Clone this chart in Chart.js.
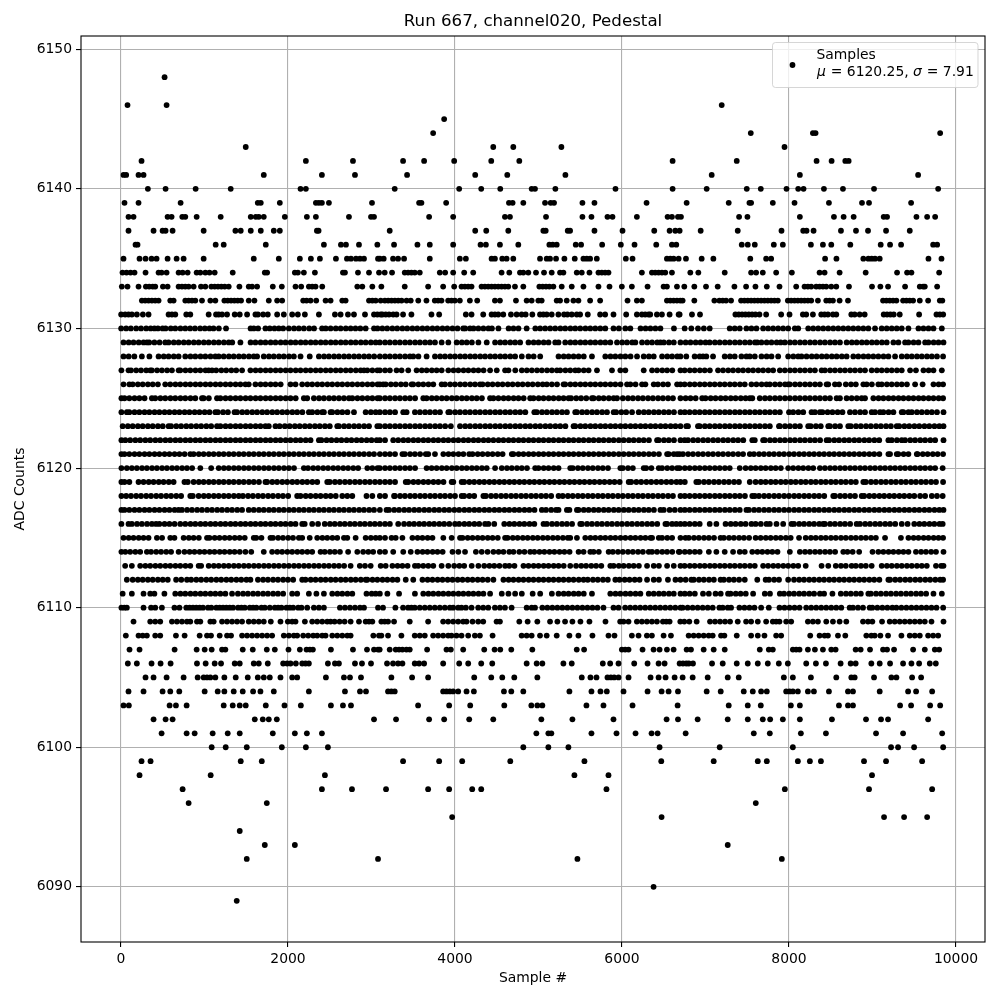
<!DOCTYPE html>
<html>
<head>
<meta charset="utf-8">
<title>Run 667, channel020, Pedestal</title>
<script src="https://cdn.jsdelivr.net/npm/chart.js@4/dist/chart.umd.min.js"></script>
<style>
  html, body { margin: 0; padding: 0; background: #fff; }
  canvas { display: block; }
</style>
</head>
<body>
<canvas id="pedestalChart" width="1000" height="1000"></canvas>
<script>
// sample numbers, one list per ADC level
const row6148 = [522];
const row6146 = [78,546,7194];
const row6145 = [3870];
const row6144 = [3738,7542,8286,8318,9810];
const row6143 = [1494,4458,4698,5274,7946];
const row6142 = [246,2214,2778,3378,3630,3990,4434,4770,6606,7374,8330,8510,8674,8714];
const row6141 = [30,62,210,270,1710,2406,2802,3426,4242,4626,5322,7074,8130,9546];
const row6140 = [322,534,894,1314,2150,2214,3278,4050,4314,4542,4918,4958,5202,5922,6606,7014,7494,7662,7970,8110,8174,8418,8646,9018,9786];
const row6139 = [42,210,714,1638,1674,1902,2334,2370,2406,2490,3006,3570,3598,3894,4646,4690,4818,5078,5146,5186,5526,5670,6294,6774,7278,7526,7546,7806,8066,8478,8874,8958,9462];
const row6138 = [90,150,558,606,734,770,906,1194,1554,1614,1650,1710,1962,2226,2334,2730,2994,3030,3690,3978,4598,4658,5090,5526,5634,5826,5886,6178,6546,6598,6670,6706,7402,7502,8130,8538,8654,8774,9134,9174,9526,9654,9750];
const row6137 = [90,390,498,534,618,990,1370,1434,1554,1674,1830,1902,2346,2366,3218,4242,4374,4638,5058,5086,5350,5378,5670,6006,6386,6570,6638,6690,6942,7386,7910,8170,8210,8294,8622,8802,8946,9162,9446];
const row6136 = [174,198,1134,1230,1734,2430,2634,2694,2850,3070,3270,3550,3698,3978,4306,4370,4538,4758,5130,5170,5218,5446,5510,5762,5986,6150,6410,6598,6650,7434,7506,7590,7818,7926,8262,8406,8506,8734,9098,9210,9342,9726,9774];
const row6135 = [30,222,294,366,426,558,666,750,990,1590,1890,2142,2274,2382,2574,2706,2754,2814,2862,2910,3078,3100,3146,3258,3318,3390,3698,4058,4130,4438,4478,4566,4618,4698,5018,5098,5138,5210,5310,5434,5538,5578,5618,5698,6046,6126,6538,6578,6618,6678,6766,6954,7094,7536,7726,7786,8432,8568,8890,8950,8990,9030,9086,9670,9826];
const row6134 = [18,66,114,162,294,450,486,546,690,738,798,906,950,1010,1060,1122,1338,1722,1750,2082,2118,2190,2322,2658,2682,2838,2970,3090,3158,3246,3398,3438,3478,3518,3578,3818,3882,3978,4110,4218,4558,4650,4778,4818,4878,4970,5066,5158,5258,5298,5458,5518,5610,5718,5758,5798,5838,6238,6358,6398,6438,6478,6518,6598,6818,6914,7230,7546,7606,7686,7846,8034,8366,8426,8606,8918,9294,9414,9466,9798];
const row6133 = [10,78,210,298,338,380,410,502,558,690,730,770,810,870,958,1010,1082,1122,1162,1202,1242,1290,1418,1530,1570,1630,1818,1926,2090,2158,2250,2290,2330,2410,2830,2890,3010,3118,3398,3678,3858,3990,4078,4118,4158,4198,4318,4358,4398,4438,4478,4518,4558,4598,4638,4718,4818,5010,5050,5090,5130,5178,5278,5398,5538,5718,5850,5998,6118,6306,6498,6538,6658,6746,6866,7006,7146,7346,7486,7598,7734,7886,8086,8186,8226,8266,8326,8366,8406,8446,8506,8566,8718,8994,9094,9186,9390,9566,9606,9626,9774];
const row6132 = [250,290,330,370,410,450,590,630,770,810,850,890,970,1070,1130,1238,1278,1318,1358,1398,1438,1530,1598,1770,1870,1930,2182,2222,2270,2338,2450,2510,2650,2690,2970,3010,3050,3110,3160,3200,3240,3280,3320,3360,3420,3470,3560,3658,3758,3798,3838,3918,3958,3998,4058,4178,4266,4478,4538,4730,4858,4918,4998,5038,5218,5258,5338,5418,5478,5618,5738,6066,6178,6238,6538,6578,6618,6658,6698,6726,6866,7106,7166,7206,7246,7306,7426,7466,7506,7546,7586,7626,7666,7706,7746,7786,7826,7866,7986,8026,8066,8106,8146,8186,8226,8266,8346,8446,8486,8526,8606,8706,9126,9166,9206,9246,9286,9366,9406,9446,9486,9566,9666,9806,9836];
const row6131 = [2,50,90,130,190,262,330,570,610,650,782,830,1050,1138,1170,1210,1270,1362,1422,1510,1610,1640,1702,1758,1870,1950,2050,2118,2202,2370,2562,2630,2718,2790,2922,3030,3070,3110,3130,3170,3210,3260,3300,3378,3478,3718,3810,4130,4198,4338,4438,4478,4518,4578,4670,4738,4798,4846,4926,5018,5058,5098,5158,5238,5306,5346,5398,5458,5498,5590,5738,5798,5898,6050,6178,6238,6278,6318,6338,6418,6478,6570,6678,6690,6838,6934,7358,7398,7438,7478,7518,7558,7598,7646,7726,7906,8006,8166,8206,8286,8386,8426,8466,8526,8566,8746,8786,8846,8906,9134,9174,9214,9254,9326,9558,9766,9806,9846];
const row6130 = [2,62,118,182,240,302,355,400,442,498,534,596,650,712,770,828,886,948,1004,1060,1108,1172,1258,1552,1590,1642,1730,1782,1838,1890,1942,2010,2072,2130,2190,2254,2312,2408,2452,2510,2572,2630,2692,2750,2808,2866,2930,3030,3072,3130,3188,3250,3308,3370,3428,3490,3548,3610,3668,3730,3788,3850,3908,3970,4030,4098,4122,4180,4222,4280,4340,4400,4442,4520,4642,4700,4760,4858,4962,5020,5080,5140,5200,5262,5320,5382,5440,5500,5562,5620,5680,5740,5800,5898,5962,6040,6100,6222,6282,6340,6400,6460,6622,6750,6830,6910,6980,7050,7290,7350,7410,7490,7550,7610,7690,7750,7810,7870,7930,7990,8070,8110,8230,8290,8350,8410,8470,8530,8590,8650,8710,8770,8830,8890,8950,9030,9110,9170,9230,9290,9350,9430,9550,9610,9670,9730,9830];
const row6129 = [30,92,150,212,270,310,338,400,462,530,570,632,690,752,810,872,930,992,1050,1112,1170,1232,1290,1332,1430,1552,1610,1672,1730,1792,1850,1912,1970,2032,2090,2152,2210,2272,2330,2392,2450,2512,2570,2632,2690,2752,2810,2872,2930,2992,3050,3100,3162,3220,3282,3340,3402,3460,3522,3580,3642,3700,3760,3840,3920,4020,4082,4140,4202,4280,4380,4480,4542,4600,4662,4720,4780,4880,4942,5000,5062,5120,5200,5240,5320,5382,5440,5502,5560,5622,5680,5742,5800,5860,5940,6002,6060,6122,6160,6240,6302,6360,6422,6460,6500,6562,6620,6700,6762,6820,6882,6940,7000,7050,7112,7170,7232,7290,7352,7410,7472,7530,7592,7620,7670,7732,7790,7852,7900,7950,8012,8070,8132,8190,8252,8310,8372,8430,8492,8550,8610,8690,8752,8810,8872,8930,8992,9050,9112,9170,9250,9310,9390,9430,9492,9550,9630,9670,9732,9790,9850];
const row6128 = [30,92,160,250,340,450,512,570,632,690,770,832,890,952,1010,1072,1130,1170,1230,1292,1350,1412,1470,1532,1590,1630,1710,1772,1830,1892,1950,2012,2070,2150,2260,2370,2432,2490,2552,2610,2672,2730,2792,2850,2912,2970,3032,3100,3162,3220,3282,3340,3402,3460,3500,3562,3660,3760,3822,3880,3942,4000,4062,4120,4182,4240,4302,4360,4422,4480,4542,4600,4662,4720,4800,4880,4942,5020,5240,5302,5360,5420,5480,5542,5640,5800,5862,5920,5982,6040,6102,6180,6260,6322,6380,6480,6542,6600,6662,6700,6770,6870,6930,6970,7010,7090,7230,7292,7350,7430,7490,7530,7590,7670,7732,7790,7870,7990,8052,8110,8150,8210,8272,8330,8392,8450,8512,8570,8632,8690,8770,8830,8892,8950,9010,9070,9132,9190,9270,9350,9412,9470,9532,9590,9652,9710,9772,9845];
const row6127 = [5,90,120,182,240,302,350,370,432,490,552,610,690,710,772,830,892,950,1012,1050,1090,1140,1202,1260,1322,1380,1450,1550,1612,1670,1732,1790,1852,1910,1972,2030,2092,2150,2212,2270,2332,2390,2452,2510,2572,2630,2692,2750,2812,2870,2910,2950,3010,3070,3100,3162,3220,3300,3360,3440,3540,3602,3660,3722,3780,3840,3920,3982,4040,4102,4160,4222,4280,4342,4420,4500,4600,4640,4722,4800,4860,4920,4982,5040,5102,5160,5220,5260,5322,5380,5440,5480,5542,5600,5700,5880,5980,6040,6260,6360,6420,6482,6540,6602,6700,6750,6812,6870,6932,6990,7052,7150,7210,7272,7330,7392,7450,7512,7570,7632,7690,7752,7810,7890,7950,8012,8070,8132,8190,8252,8310,8390,8430,8492,8550,8612,8670,8732,8790,8852,8910,8990,9052,9110,9172,9230,9292,9350,9450,9520,9610,9672,9730,9830];
const row6126 = [30,100,140,202,260,322,380,442,530,590,652,710,772,830,892,950,1012,1070,1132,1190,1252,1310,1372,1430,1490,1530,1610,1672,1730,1792,1850,1912,2030,2090,2170,2232,2290,2352,2410,2472,2530,2592,2650,2712,2770,2832,2890,2952,3010,3072,3100,3140,3170,3232,3290,3352,3410,3480,3500,3562,3620,3682,3740,3840,3880,3942,4000,4062,4120,4182,4240,4300,4330,4392,4450,4512,4570,4632,4690,4752,4810,4872,4930,4992,5050,5100,5160,5222,5300,5320,5382,5440,5502,5560,5622,5680,5742,5800,5862,5920,5982,6060,6100,6162,6240,6280,6380,6430,6492,6550,6660,6700,6750,6812,6870,6932,6990,7052,7110,7172,7230,7292,7350,7412,7470,7550,7610,7672,7730,7770,7832,7890,7952,7990,8010,8072,8130,8192,8250,8312,8370,8450,8470,8550,8600,8680,8742,8800,8890,8930,8992,9070,9110,9172,9230,9292,9350,9412,9510,9600,9730,9792,9845];
const row6125 = [5,42,100,162,220,282,370,410,472,530,592,650,712,770,832,890,970,990,1052,1150,1190,1252,1310,1372,1430,1492,1550,1612,1670,1732,1790,1852,1910,1972,2030,2092,2190,2230,2310,2372,2430,2492,2550,2610,2670,2730,2770,2832,2890,2952,3010,3072,3100,3162,3220,3282,3340,3402,3460,3522,3620,3660,3722,3780,3842,3900,3962,4020,4082,4140,4202,4260,4322,4420,4460,4520,4582,4640,4702,4760,4822,4900,4940,5002,5060,5122,5180,5242,5300,5360,5390,5452,5510,5572,5640,5660,5722,5780,5842,5900,5940,6010,6072,6130,6192,6250,6312,6370,6432,6490,6552,6610,6700,6762,6820,6882,6960,7000,7062,7120,7182,7240,7302,7360,7422,7480,7530,7560,7650,7712,7770,7832,7890,7952,8010,8072,8130,8192,8250,8312,8370,8432,8490,8570,8610,8690,8750,8812,8870,8910,9010,9072,9130,9192,9250,9312,9370,9432,9490,9552,9610,9672,9730,9792,9845];
const row6124 = [5,70,100,162,220,282,340,402,460,522,580,642,700,762,820,882,940,1002,1060,1130,1160,1222,1280,1360,1390,1452,1510,1572,1630,1692,1750,1812,1870,1932,1990,2052,2110,2172,2250,2290,2352,2410,2430,2510,2530,2592,2650,2712,2790,2930,2992,3050,3100,3162,3220,3282,3380,3420,3520,3580,3642,3700,3762,3820,3920,3940,4002,4060,4122,4180,4242,4300,4362,4420,4482,4540,4602,4660,4722,4780,4842,4950,4980,5042,5100,5162,5220,5282,5340,5440,5460,5522,5580,5642,5700,5762,5820,5900,5930,5992,6050,6120,6200,6262,6320,6382,6440,6502,6560,6622,6700,6752,6810,6872,6930,6992,7050,7112,7170,7232,7290,7352,7410,7472,7530,7592,7650,7712,7770,7832,7890,8000,8050,8112,8170,8270,8310,8370,8400,8462,8520,8582,8640,8730,8790,8852,8910,8990,9030,9090,9130,9192,9250,9350,9370,9430,9470,9532,9590,9652,9710,9772,9850];
const row6123 = [20,82,140,202,260,322,380,442,500,570,600,662,720,782,840,902,960,1022,1080,1150,1190,1252,1310,1372,1430,1492,1550,1612,1670,1730,1770,1850,1900,1962,2020,2082,2140,2202,2260,2322,2380,2442,2500,2590,2610,2672,2730,2792,2850,2912,2970,3070,3100,3162,3220,3282,3340,3402,3460,3522,3580,3642,3700,3762,3820,3882,3950,4060,4122,4180,4242,4300,4362,4420,4482,4540,4602,4660,4722,4780,4842,4900,4962,5020,5082,5140,5202,5260,5322,5420,5440,5502,5560,5622,5680,5742,5800,5862,5920,5982,6040,6102,6160,6222,6280,6342,6400,6462,6520,6582,6640,6700,6770,6790,6910,6930,6992,7050,7112,7170,7232,7290,7352,7410,7472,7530,7592,7650,7712,7770,7880,7890,7952,8010,8072,8130,8230,8260,8322,8380,8470,8490,8552,8610,8710,8740,8802,8860,8922,8980,9042,9100,9162,9220,9290,9320,9382,9440,9502,9560,9622,9680,9742,9800,9850];
const row6122 = [5,52,110,172,230,292,350,412,470,532,590,652,710,772,830,892,950,1012,1070,1132,1190,1252,1310,1372,1430,1492,1550,1612,1670,1732,1790,1852,1910,1972,2030,2092,2150,2212,2270,2370,2400,2462,2520,2582,2640,2702,2760,2822,2880,2942,3000,3062,3100,3162,3260,3320,3382,3440,3502,3560,3622,3680,3742,3800,3862,3920,3982,4040,4102,4160,4222,4280,4342,4400,4460,4522,4580,4642,4700,4762,4820,4882,4940,5002,5060,5122,5180,5242,5300,5362,5420,5482,5540,5602,5660,5722,5780,5842,5900,5962,6020,6082,6140,6202,6260,6322,6420,6440,6502,6560,6622,6700,6750,6790,6852,6910,6972,7030,7092,7150,7212,7270,7332,7390,7452,7560,7590,7690,7710,7772,7830,7892,7950,8012,8070,8132,8190,8252,8310,8372,8450,8480,8542,8600,8662,8720,8782,8840,8902,8960,9022,9080,9190,9230,9292,9350,9390,9452,9510,9572,9630,9692,9750,9850];
const row6121 = [5,42,100,162,220,282,340,402,460,522,580,642,700,762,830,870,932,990,1052,1110,1172,1230,1292,1350,1412,1470,1532,1590,1652,1710,1772,1830,1892,1950,2012,2070,2132,2190,2252,2310,2372,2430,2492,2550,2612,2670,2732,2790,2852,2910,2972,3030,3100,3162,3220,3282,3370,3400,3462,3520,3582,3650,3680,3760,3860,3922,3980,4042,4100,4170,4210,4272,4330,4392,4450,4512,4570,4680,4700,4762,4820,4882,4940,5002,5060,5122,5180,5242,5300,5362,5420,5482,5540,5602,5660,5722,5780,5842,5900,5962,6020,6082,6140,6202,6260,6322,6380,6442,6540,6560,6620,6660,6690,6730,6792,6850,6912,6970,7032,7090,7152,7210,7272,7330,7392,7450,7530,7580,7642,7700,7762,7820,7882,7940,8002,8060,8122,8180,8242,8300,8362,8420,8482,8540,8602,8660,8722,8780,8842,8900,8962,9020,9082,9190,9210,9290,9310,9372,9430,9530,9540,9602,9660,9722,9780,9845];
const row6120 = [5,70,130,190,252,310,372,430,492,550,612,670,732,790,852,950,1080,1170,1232,1290,1352,1410,1472,1530,1592,1650,1712,1770,1832,1890,1952,2010,2072,2190,2240,2302,2360,2422,2480,2542,2600,2662,2720,2782,2840,2950,3010,3072,3100,3162,3220,3282,3340,3402,3460,3522,3660,3720,3780,3842,3900,3962,4020,4082,4140,4202,4260,4322,4380,4480,4560,4622,4680,4742,4800,4862,4960,5000,5062,5120,5182,5240,5380,5410,5472,5530,5592,5650,5712,5770,5832,5980,6010,6072,6130,6260,6290,6352,6440,6480,6542,6600,6660,6690,6752,6810,6872,6930,6992,7050,7112,7170,7232,7290,7410,7480,7542,7600,7662,7720,7782,7840,7902,7990,8050,8112,8170,8232,8290,8370,8430,8492,8550,8612,8670,8732,8790,8852,8910,8972,9030,9092,9150,9212,9270,9332,9390,9452,9510,9572,9630,9692,9750,9840];
const row6119 = [5,42,100,210,270,332,390,452,510,572,630,760,800,870,932,990,1052,1110,1172,1230,1292,1350,1412,1470,1532,1590,1652,1730,1750,1812,1870,1932,1990,2052,2110,2172,2230,2292,2350,2470,2500,2562,2620,2682,2740,2802,2860,2922,2980,3042,3100,3162,3220,3282,3410,3440,3502,3560,3622,3680,3742,3800,3862,3960,3980,4080,4110,4172,4230,4292,4350,4412,4470,4532,4590,4652,4710,4772,4830,4892,4950,5012,5070,5132,5190,5252,5310,5372,5430,5492,5550,5612,5670,5732,5790,5852,5910,5972,6080,6110,6172,6230,6292,6350,6412,6470,6532,6590,6652,6700,6752,6890,6920,6982,7040,7102,7160,7222,7280,7342,7400,7530,7600,7662,7720,7782,7840,7902,7960,8022,8080,8142,8200,8262,8320,8382,8440,8502,8560,8622,8680,8742,8800,8890,8920,8982,9040,9102,9160,9222,9280,9342,9400,9462,9520,9582,9640,9702,9760,9845];
const row6118 = [5,62,120,182,240,302,360,422,480,542,600,662,720,830,860,930,992,1050,1112,1170,1232,1290,1352,1410,1460,1522,1580,1642,1700,1762,1820,1882,1940,2002,2110,2150,2212,2270,2332,2390,2452,2510,2572,2650,2710,2770,2940,3010,3100,3162,3270,3280,3342,3400,3462,3520,3582,3640,3702,3760,3822,3880,3942,4000,4080,4110,4172,4230,4340,4370,4432,4490,4552,4610,4672,4730,4792,4850,4912,4970,5032,5090,5152,5240,5290,5352,5410,5472,5530,5592,5650,5712,5770,5832,5890,5952,6010,6072,6130,6192,6250,6312,6370,6432,6490,6552,6610,6700,6752,6810,6872,6930,6992,7050,7112,7170,7232,7290,7352,7410,7472,7560,7590,7640,7702,7760,7822,7880,7942,8000,8062,8120,8182,8240,8302,8360,8422,8530,8550,8612,8670,8732,8790,8870,8900,8962,9020,9082,9140,9202,9260,9322,9380,9442,9500,9570,9630,9710,9772,9840];
const row6117 = [5,42,100,162,220,282,340,402,460,522,580,642,690,730,792,850,912,970,1032,1090,1152,1210,1272,1330,1392,1450,1530,1590,1652,1710,1772,1830,1892,1950,2012,2070,2132,2190,2252,2310,2372,2430,2492,2550,2612,2670,2732,2790,2852,2910,2972,3030,3100,3180,3210,3272,3330,3392,3450,3512,3570,3632,3690,3752,3810,3872,3930,3992,4050,4112,4170,4232,4290,4352,4410,4472,4530,4592,4650,4712,4770,4832,4890,4952,5040,5090,5152,5210,5240,5340,5370,5460,5480,5542,5600,5662,5720,5782,5840,5902,5960,6022,6080,6142,6200,6262,6320,6382,6460,6500,6570,6632,6700,6752,6810,6872,6930,6992,7050,7112,7170,7232,7290,7352,7410,7490,7520,7582,7640,7702,7760,7822,7880,7942,8000,8062,8120,8182,8240,8302,8360,8422,8480,8542,8600,8662,8720,8782,8840,8902,8960,9022,9080,9142,9200,9262,9320,9382,9440,9502,9560,9622,9680,9742,9800,9850];
const row6116 = [5,90,130,192,250,312,370,420,460,522,580,642,710,770,832,890,952,1010,1072,1130,1192,1250,1312,1370,1432,1490,1552,1610,1672,1730,1792,1850,1912,1970,2032,2090,2170,2200,2290,2360,2440,2502,2560,2622,2680,2742,2800,2862,2920,2982,3040,3100,3162,3220,3320,3390,3452,3510,3572,3630,3692,3750,3812,3870,3932,4000,4050,4112,4170,4232,4290,4360,4400,4470,4590,4652,4710,4772,4830,4892,4950,5060,5100,5162,5220,5282,5340,5402,5500,5520,5582,5640,5702,5760,5822,5880,5942,6000,6062,6120,6182,6240,6302,6360,6422,6520,6540,6600,6650,6700,6752,6810,6872,6930,7050,7130,7240,7302,7360,7422,7480,7550,7600,7662,7730,7770,7850,7930,8030,8060,8122,8180,8242,8300,8362,8410,8430,8492,8550,8612,8670,8732,8810,8850,8912,8970,9032,9090,9152,9210,9272,9350,9420,9500,9562,9620,9682,9740,9802,9840];
const row6115 = [30,92,150,212,270,330,430,492,590,640,750,812,870,932,1030,1060,1122,1180,1242,1300,1362,1420,1482,1590,1620,1682,1790,1820,1882,1940,2002,2060,2130,2170,2260,2350,2412,2470,2532,2590,2670,2710,2810,2930,2992,3050,3100,3162,3240,3290,3370,3490,3552,3610,3672,3730,3860,3960,4060,4090,4152,4210,4272,4330,4392,4450,4512,4600,4630,4692,4750,4812,4870,4932,4990,5052,5110,5172,5230,5292,5350,5380,5460,5560,5622,5680,5742,5800,5862,5920,5982,6040,6102,6160,6222,6280,6340,6360,6440,6480,6542,6600,6700,6760,6800,6862,6920,6982,7040,7102,7180,7220,7282,7340,7402,7460,7522,7600,7660,7722,7780,7842,7900,7962,8020,8120,8200,8262,8320,8382,8440,8502,8560,8622,8680,8742,8800,8862,8920,8982,9040,9150,9340,9430,9492,9550,9612,9670,9732,9790,9845];
const row6114 = [5,52,110,172,230,310,360,422,480,542,600,690,760,822,880,942,1000,1062,1120,1182,1240,1302,1360,1422,1490,1560,1710,1810,1872,1930,1992,2050,2112,2170,2232,2290,2390,2440,2502,2560,2622,2720,2830,2900,2962,3020,3100,3162,3260,3380,3470,3550,3612,3670,3732,3790,3852,3970,4040,4120,4250,4320,4390,4460,4522,4580,4650,4700,4770,4832,4900,4950,5012,5070,5132,5190,5252,5310,5372,5480,5540,5620,5660,5722,5840,5890,5952,6010,6072,6130,6192,6250,6320,6360,6420,6482,6540,6602,6680,6690,6752,6810,6872,6930,7040,7130,7230,7330,7410,7470,7560,7622,7680,7742,7800,7862,8010,8130,8192,8250,8312,8370,8432,8490,8552,8650,8700,8762,8840,9000,9070,9130,9192,9250,9312,9370,9430,9520,9582,9640,9702,9760,9850];
const row6113 = [50,130,230,292,350,412,470,532,590,652,710,772,830,930,960,1050,1112,1170,1232,1290,1352,1410,1472,1530,1592,1650,1712,1770,1832,1890,1952,2010,2072,2130,2192,2250,2312,2370,2432,2490,2552,2610,2672,2750,2860,2922,2990,3110,3170,3250,3312,3370,3432,3520,3560,3620,3680,3740,3840,3920,3990,4052,4110,4200,4280,4350,4412,4470,4532,4600,4650,4712,4820,4880,4942,5000,5062,5120,5182,5240,5302,5380,5450,5512,5570,5632,5690,5752,5860,5900,5962,6020,6082,6140,6202,6300,6380,6442,6540,6620,6700,6750,6812,6870,6932,6990,7052,7110,7172,7230,7292,7350,7412,7470,7532,7590,7690,7750,7812,7870,7932,7990,8052,8110,8200,8390,8470,8560,8622,8680,8750,8800,8862,8920,8990,9110,9172,9230,9292,9350,9412,9470,9532,9590,9650,9760,9822,9850];
const row6112 = [70,140,202,260,322,380,442,500,560,660,722,790,840,902,960,1022,1080,1142,1200,1262,1320,1382,1440,1502,1550,1640,1702,1760,1822,1880,1942,2000,2062,2170,2210,2272,2330,2392,2450,2512,2570,2632,2690,2752,2810,2872,2930,2950,3012,3070,3132,3190,3252,3310,3410,3500,3610,3672,3730,3792,3850,3912,3970,4032,4090,4152,4210,4272,4330,4392,4460,4580,4642,4700,4762,4820,4882,4940,5002,5060,5122,5180,5242,5300,5362,5420,5482,5540,5590,5652,5710,5772,5830,5920,5970,6032,6090,6152,6210,6300,6380,6442,6550,6640,6700,6762,6830,6860,6922,6980,7042,7100,7180,7220,7282,7340,7402,7470,7620,7720,7760,7822,7880,7990,8060,8122,8180,8242,8300,8362,8420,8482,8540,8602,8660,8722,8780,8842,8900,8962,9020,9082,9190,9210,9272,9330,9392,9450,9512,9570,9632,9690,9752,9810,9845];
const row6111 = [20,130,270,350,400,520,650,712,770,832,890,952,1010,1072,1130,1190,1250,1330,1400,1462,1520,1582,1640,1702,1760,1822,1880,1942,2050,2110,2250,2340,2430,2530,2592,2650,2712,2770,2940,3002,3050,3100,3190,3330,3520,3620,3682,3740,3802,3860,3922,3980,4042,4100,4162,4220,4282,4340,4420,4560,4640,4720,4800,4930,5020,5160,5240,5302,5360,5422,5480,5542,5640,5860,5922,5980,6042,6100,6162,6220,6320,6380,6442,6500,6562,6620,6700,6752,6810,6872,6970,7040,7120,7182,7270,7300,7362,7420,7482,7570,7710,7772,7890,7940,8002,8060,8122,8180,8242,8300,8370,8420,8520,8620,8682,8740,8802,8860,8950,8980,9042,9100,9162,9220,9282,9340,9402,9460,9522,9580,9642,9730,9830];
const row6110 = [5,40,70,270,360,410,490,640,700,782,822,862,902,942,982,1042,1082,1142,1182,1222,1262,1302,1342,1402,1442,1482,1542,1582,1622,1682,1722,1782,1842,1882,1922,1982,2022,2062,2122,2162,2230,2310,2370,2430,2622,2682,2742,2802,2862,2910,3078,3138,3286,3378,3438,3478,3518,3578,3638,3698,3758,3818,3878,3938,3978,4038,4078,4130,4198,4278,4338,4398,4478,4538,4598,4678,4858,4918,4958,5046,5106,5166,5226,5286,5346,5406,5466,5526,5586,5646,5706,5778,5898,5958,6038,6098,6158,6218,6278,6338,6398,6458,6518,6578,6638,6700,6726,6786,6846,6906,6966,7026,7086,7166,7206,7266,7306,7406,7466,7526,7586,7666,7758,7886,7946,8006,8066,8126,8206,8266,8326,8386,8446,8506,8566,8626,8726,8766,8826,8886,8966,8998,9058,9118,9178,9238,9286,9346,9406,9466,9526,9586,9646,9706,9766,9846];
const row6109 = [150,350,410,470,610,670,730,790,830,910,950,1070,1110,1210,1270,1330,1390,1450,1530,1590,1650,1710,1794,1910,1998,2050,2090,2202,2290,2350,2410,2470,2510,2558,2618,2678,2750,2850,2930,2970,3010,3118,3158,3198,3270,3458,3678,3858,3918,3978,4038,4098,4138,4210,4278,4338,4498,4538,4770,4870,4986,5138,5226,5318,5406,5502,5610,5802,5978,6018,6078,6178,6238,6298,6358,6418,6490,6530,6570,6698,6746,6806,6894,7054,7114,7174,7234,7294,7386,7486,7546,7626,7726,7806,7846,7886,7966,8026,8226,8286,8346,8446,8526,8606,8686,8886,8946,8998,9114,9206,9266,9326,9386,9446,9506,9566,9626,9706,9850];
const row6108 = [58,210,260,310,410,470,658,762,942,1030,1078,1182,1270,1318,1450,1510,1570,1630,1690,1750,1810,1950,2010,2070,2110,2182,2242,2302,2350,2410,2450,2530,2590,2650,2710,2750,3022,3090,3118,3198,3358,3518,3578,3638,3738,3798,3858,3918,3958,4018,4078,4158,4238,4298,4450,4798,4858,4918,5018,5098,5218,5370,5478,5646,5838,5910,6118,6198,6298,6358,6498,6586,6798,6858,6918,6978,7038,7086,7186,7226,7374,7546,7626,7706,7846,7906,8254,8366,8426,8466,8586,8674,8926,8986,9026,9094,9186,9346,9446,9506,9566,9666,9726,9786];
const row6107 = [102,222,642,906,1002,1086,1210,1250,1458,1578,1746,1842,2006,2142,2222,2262,2298,2514,2778,2946,3030,3078,3098,3218,3290,3330,3370,3418,3458,3666,3898,3950,4098,4350,4474,4542,4674,4926,5458,5546,5998,6038,6078,6246,6378,6450,6538,6618,6774,6826,6978,7098,7230,7650,7758,7806,8046,8086,8126,8226,8310,8406,8506,8558,8798,8858,8970,9126,9174,9258,9486,9626,9746,9798];
const row6106 = [82,190,366,474,594,910,1014,1122,1198,1362,1422,1590,1650,1758,1942,1990,2030,2094,2170,2210,2250,2478,2562,2610,2802,2886,2994,3186,3258,3318,3370,3518,3570,3630,3858,4050,4158,4314,4446,4858,4978,5046,5298,5398,5770,5858,5958,6146,6306,6438,6510,6690,6730,6770,6800,6850,7078,7206,7374,7506,7626,7746,7878,7986,8206,8322,8442,8618,8738,8798,8986,9086,9210,9366,9466,9558,9686,9758];
const row6105 = [294,390,546,750,918,990,1030,1070,1130,1238,1374,1518,1638,1710,1782,1910,2050,2110,2454,2670,2742,2874,3238,3486,3678,4230,4434,4566,4710,4986,5518,5622,5694,5826,5866,5906,5958,6078,6342,6438,6522,6630,6726,6846,7026,7266,7398,7938,8046,8262,8566,8746,8786,9018,9226,9286,9474,9582];
const row6104 = [90,270,498,590,698,1002,1158,1238,1350,1458,1582,1670,1830,2250,2682,2862,2934,3198,3238,3278,3858,3898,3938,3978,4038,4138,4226,4586,4674,4818,5370,5634,5742,5818,6018,6306,6474,6558,6670,7014,7182,7458,7566,7666,7734,7966,8006,8046,8106,8226,8298,8478,8706,8766,9086,9426,9522,9714];
const row6103 = [30,94,582,658,786,1230,1338,1422,1494,1734,1958,2154,2514,2658,2754,3558,3930,4182,4590,4914,4986,5046,5574,5778,6126,6666,7278,7506,7662,8022,8130,8598,8706,8766,9330,9462,9690,9810];
const row6102 = [390,534,618,1602,1698,1770,1866,3030,3294,3690,3870,4170,4458,5034,5406,5898,6534,6670,6906,7266,7506,7686,7774,7926,8130,8514,8922,9102,9186,9666];
const row6101 = [486,786,882,1098,1278,1422,1818,2082,2226,2406,4974,5118,5154,5634,5934,6162,6354,6426,6762,7578,7770,8142,8442,9042,9366,9834];
const row6100 = [1086,1254,1506,1926,2214,2478,4818,5118,5358,6450,7170,8046,9222,9306,9498,9846];
const row6099 = [246,354,1434,1686,3378,3810,4086,4662,5550,6470,7098,7626,7734,8106,8250,8382,8898,9162,9594];
const row6098 = [222,1074,2442,5430,5838,8994];
const row6097 = [738,2406,2766,3174,3678,3930,4206,4314,5814,7950,8958,9714];
const row6096 = [810,1746,7602];
const row6095 = [3966,6474,9138,9378,9654];
const row6094 = [1422];
const row6093 = [1722,2082,7266];
const row6092 = [1506,3078,5466,7914];
const row6090 = [6378];
const row6089 = [1386];

const adcLevels = [6148,6146,6145,6144,6143,6142,6141,6140,6139,6138,6137,6136,6135,6134,6133,6132,6131,6130,6129,6128,6127,6126,6125,6124,6123,6122,6121,6120,6119,6118,6117,6116,6115,6114,6113,6112,6111,6110,6109,6108,6107,6106,6105,6104,6103,6102,6101,6100,6099,6098,6097,6096,6095,6094,6093,6092,6090,6089];
const levelRows = [row6148,row6146,row6145,row6144,row6143,row6142,row6141,row6140,row6139,row6138,row6137,row6136,row6135,row6134,row6133,row6132,row6131,row6130,row6129,row6128,row6127,row6126,row6125,row6124,row6123,row6122,row6121,row6120,row6119,row6118,row6117,row6116,row6115,row6114,row6113,row6112,row6111,row6110,row6109,row6108,row6107,row6106,row6105,row6104,row6103,row6102,row6101,row6100,row6099,row6098,row6097,row6096,row6095,row6094,row6093,row6092,row6090,row6089];

const xTicks = [0,2000,4000,6000,8000,10000];
const yTicks = [6090,6100,6110,6120,6130,6140,6150];

const fontName = '"DejaVu Sans", sans-serif';
const points = [];
adcLevels.forEach((level, i) => {
    levelRows[i].forEach(s => points.push({x: s, y: level}));
});

// рамка и легенда рисуются руками, как в matplotlib
const framePlugin = {
    id: 'frame',
    afterDatasetsDraw(chart) {
        const {ctx, chartArea: a} = chart;
        ctx.save();
        ctx.strokeStyle = '#000';
        ctx.lineWidth = 1.1;
        ctx.strokeRect(a.left, a.top, a.right - a.left, a.bottom - a.top);

        // legend box
        ctx.beginPath();
        ctx.roundRect(772.5, 42.5, 205.5, 45, 3);
        ctx.fillStyle = 'rgba(255,255,255,0.8)';
        ctx.fill();
        ctx.strokeStyle = 'rgba(204,204,204,0.8)';
        ctx.lineWidth = 1;
        ctx.stroke();

        ctx.beginPath();
        ctx.arc(792.5, 65, 2.9, 0, Math.PI * 2);
        ctx.fillStyle = '#000';
        ctx.fill();

        ctx.textBaseline = 'alphabetic';
        ctx.textAlign = 'left';
        ctx.font = '13.9px ' + fontName;
        ctx.fillText('Samples', 816.5, 59);
        let tx = 817;
        [['μ', true], [' = 6120.25, ', false], ['σ', true], [' = 7.91', false]].forEach(part => {
            ctx.font = (part[1] ? 'italic ' : '') + '13.9px ' + fontName;
            ctx.fillText(part[0], tx, 76);
            tx += ctx.measureText(part[0]).width + (part[1] ? 0.5 : 0);
        });
        ctx.restore();
    }
};

new Chart(document.getElementById('pedestalChart').getContext('2d'), {
    type: 'scatter',
    data: {
        datasets: [{
            label: 'Samples',
            data: points,
            borderColor: '#000',
            backgroundColor: '#000',
            pointRadius: 2.9,
            pointBorderWidth: 0
        }]
    },
    options: {
        responsive: false,
        animation: false,
        layout: {padding: {left: 0, right: 15, top: 0, bottom: 0}},
        font: {family: fontName},
        plugins: {
            legend: {display: false},
            tooltip: {enabled: false},
            title: {
                display: true,
                text: 'Run 667, channel020, Pedestal',
                color: '#000',
                fullSize: false,
                font: {family: fontName, size: 16.67, weight: 'normal'},
                padding: {top: 12, bottom: 4}
            }
        },
        scales: {
            x: {
                type: 'linear',
                min: -479,
                max: 10347,
                afterBuildTicks: s => { s.ticks = xTicks.map(v => ({value: v})); },
                afterFit: s => { s.height = 58; s.paddingLeft = 0; s.paddingRight = 0; },
                ticks: {
                    color: '#000', padding: 4, maxRotation: 0, autoSkip: false,
                    font: {family: fontName, size: 13.9},
                    callback: v => String(v)
                },
                grid: {color: '#b0b0b0', lineWidth: 1.1, tickColor: '#000', tickLength: 5},
                border: {display: false},
                title: {
                    display: true, text: 'Sample #', color: '#000',
                    font: {family: fontName, size: 13.9},
                    padding: {top: 0, bottom: 13}
                }
            },
            y: {
                type: 'linear',
                min: 6086.05,
                max: 6150.95,
                afterBuildTicks: s => { s.ticks = yTicks.map(v => ({value: v})); },
                afterFit: s => { s.width = 81; s.paddingTop = 0; s.paddingBottom = 0; },
                ticks: {
                    color: '#000', padding: 4, autoSkip: false,
                    font: {family: fontName, size: 13.9},
                    callback: v => String(v)
                },
                grid: {color: '#b0b0b0', lineWidth: 1.1, tickColor: '#000', tickLength: 5},
                border: {display: false},
                title: {
                    display: true, text: 'ADC Counts', color: '#000',
                    font: {family: fontName, size: 13.9},
                    padding: {top: 12, bottom: 0}
                }
            }
        }
    },
    plugins: [framePlugin]
});
</script>
</body>
</html>
